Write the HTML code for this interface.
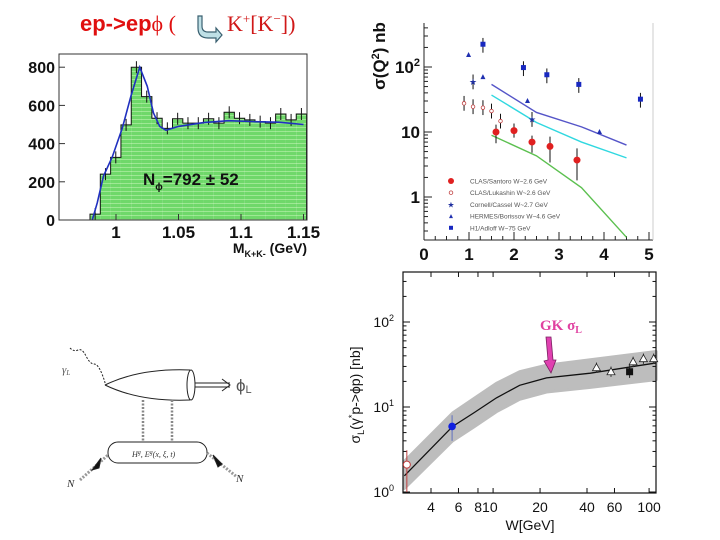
<!DOCTYPE html>
<html><head><meta charset="utf-8"><style>
body{margin:0;background:#fff;width:720px;height:540px;overflow:hidden}
svg{display:block}
</style></head><body>
<svg id="s" width="720" height="540" xmlns="http://www.w3.org/2000/svg" font-family="Liberation Sans, Arial, sans-serif">
<defs>
<pattern id="hl" width="4" height="4" patternUnits="userSpaceOnUse"><rect width="4" height="4" fill="#6fd86a"/><rect y="3" width="4" height="1" fill="#9ee894"/></pattern>
</defs>
<g>
<text x="80" y="31" font-size="22" font-weight="bold" fill="#e01010">ep-&gt;ep<tspan font-weight="normal" font-family="Liberation Serif, serif">ϕ (</tspan></text>
<path d="M202 16 v10 q0 6 6 6 h8 v-4 l6 7 -6 7 v-4 h-8 q-10 0 -10 -10 v-12 z" fill="#bfe0e6" stroke="#3a6070" stroke-width="1.2"/>
<text x="227" y="31" font-size="22" font-family="Liberation Serif, serif" fill="#d01818">K<tspan font-size="13" dy="-8">+</tspan><tspan dy="8">[K</tspan><tspan font-size="13" dy="-8">−</tspan><tspan dy="8">])</tspan></text>
</g>
<g id="hist"></g>
<g id="q2"></g>
<g id="wch"></g>
<g stroke="#222" fill="none" stroke-width="1">
<path d="M70 348 q4 4 8 2 t8 6 t8 8 t8 10 t3 11" stroke-dasharray="2 1.5"/>
<path d="M105 385 Q140 368 190 370"/>
<path d="M105 385 Q140 402 190 400"/>
<ellipse cx="191" cy="385" rx="4" ry="15"/>
<path d="M195 383 H230 M195 387 H230 M222 379 L230 385 L222 391"/>
<path d="M143 400 V442 M172 400 V442" stroke-dasharray="2 1.5" stroke-width="2.5" stroke="#888"/>
<rect x="108" y="442" width="99" height="21" rx="10"/>
<path d="M80 480 L108 455 M207 453 L237 477" stroke="#999" stroke-width="3" stroke-dasharray="2 1.5"/>
<path d="M92 470 l9 -12 l-2 10 z M222 464 l-9 -9 l5 12 z" fill="#111"/>
<text x="132" y="457" font-size="8" font-style="italic" fill="#333" stroke="none" font-family="Liberation Serif, serif">H<tspan font-size="6" dy="-3">g</tspan><tspan dy="3">, E</tspan><tspan font-size="6" dy="-3">g</tspan><tspan dy="3">(x, ξ, t)</tspan></text>
<text x="62" y="373" font-size="11" font-style="italic" fill="#555" stroke="none" font-family="Liberation Serif, serif">γ<tspan font-size="7" dy="2">L</tspan></text>
<text x="236" y="391" font-size="17" fill="#555" stroke="none">ϕ<tspan font-size="11" dy="2">L</tspan></text>
<text x="67" y="487" font-size="11" font-style="italic" fill="#333" stroke="none" font-family="Liberation Serif, serif">N</text>
<text x="236" y="482" font-size="11" font-style="italic" fill="#333" stroke="none" font-family="Liberation Serif, serif">N</text>
</g>
</svg>
<script>
// ---- histogram data ----
const binStart = 0.9792;
const binWidth = 0.00825;
const binCounts = [31,240,328,498,800,646,533,480,530,507,507,530,507,564,533,524,515,507,555,524,555];
const fitMass = [0.981,0.985,0.99,0.997,1.005,1.012,1.019,1.025,1.03,1.035,1.04,1.05,1.07,1.09,1.11,1.13,1.15];
const fitValue = [0,90,230,330,480,650,800,700,560,490,470,490,510,520,515,512,500];
const histYTicks = [0,200,400,600,800];
const histXTicks = [1,1.05,1.1,1.15];
// ---- Q2 chart data ----
const santoroQ = [1.6,2.0,2.4,2.8,3.4];
const santoroV = [10,10.5,7,6,3.7];
const santoroLo = [6.7,8.2,4.8,3.4,1.8];
const santoroHi = [13,13.5,8.8,8.5,5.6];
const lukashinQ = [0.89,1.09,1.31,1.5,1.7];
const lukashinV = [27.6,24.5,23.7,21,14.7];
const cornellQ = [1.09,2.4];
const cornellV = [59,15.6];
const hermesQ = [0.99,1.31,2.3,3.9];
const hermesV = [153,70,30,10];
const h1Q = [1.31,2.21,2.73,3.44,4.81];
const h1V = [224,98,76,54,32];
const curveQ = [1.5,2.5,3.5,4.5];
const curvePurple = [54,20,12,6.3];
const curveCyan = [37,14,7,4];
const greenQ = [1.5,2.5,3.5,4.5];
const greenV = [8.9,4.3,1.39,0.24];
const q2XTicks = [0,1,2,3,4,5];
// ---- W chart data ----
const curveW = [2.7,5.5,7.5,10.5,14.8,22,42,111];
const curveSigma = [1.55,5.9,8.5,12.8,18,22,25,33];
const bandUpper = [2.3,8.5,12.5,19,26,31,36,45];
const bandLower = [1.1,4.0,5.8,8.8,12.3,15,17,21];
const triW = [46,57,79,92,107];
const triS = [29,26,34,37,37];
const wXTicks = [4,6,8,10,20,40,60,100];

const NS='http://www.w3.org/2000/svg';
function mk(parent,tag,attrs,text){const e=document.createElementNS(NS,tag);for(const k in attrs)e.setAttribute(k,attrs[k]);if(text!==undefined)e.textContent=text;parent.appendChild(e);return e;}

// ===== histogram =====
const H=document.getElementById('hist');
const hx=m=>116+(m-1)*1250, hy=v=>220-v*0.191;
mk(H,'rect',{x:59,y:54,width:248,height:166,fill:'#fff',stroke:'#333','stroke-width':1});
let d='M'+hx(binStart)+' '+hy(0);
binCounts.forEach((c,i)=>{
  const b=mk(H,'rect',{x:hx(binStart+i*binWidth),y:hy(c),width:binWidth*1250,height:hy(0)-hy(c),fill:'url(#hl)'});
  
  
  d+=' V'+hy(c)+' H'+hx(binStart+(i+1)*binWidth);
  const e=mk(H,'line',{x1:hx(binStart+(i+0.5)*binWidth),x2:hx(binStart+(i+0.5)*binWidth),y1:hy(c)-6,y2:hy(c)+6,stroke:'#111','stroke-width':1});
  
  
});
d+=' V'+hy(0);
mk(H,'path',{d:d,fill:'none',stroke:'#111','stroke-width':1});
let fd='';fitMass.forEach((m,i)=>{fd+=(i?'L':'M')+hx(m)+' '+hy(fitValue[i])+' ';});
const fit=mk(H,'path',{d:fd,fill:'none',stroke:'#2030c0','stroke-width':1.6});


mk(H,'rect',{x:59,y:54,width:248,height:166,fill:'none',stroke:'#333','stroke-width':1});
histYTicks.forEach(v=>{
  mk(H,'line',{x1:59,x2:65,y1:hy(v),y2:hy(v),stroke:'#333'});
  const t=mk(H,'text',{x:55,y:hy(v)+6,'font-size':16,'font-weight':'bold','text-anchor':'end',fill:'#111'},String(v));
  
  
});
histXTicks.forEach(v=>{
  mk(H,'line',{x1:hx(v),x2:hx(v),y1:220,y2:214,stroke:'#333'});
  const t=mk(H,'text',{x:hx(v),y:238,'font-size':17,'font-weight':'bold','text-anchor':'middle',fill:'#111'},String(v));
  
  
});
const xt=mk(H,'text',{x:307,y:253,'font-size':14,'font-weight':'bold','text-anchor':'end',fill:'#111'});
xt.innerHTML='M<tspan font-size="9" dy="4">K+K-</tspan><tspan dy="-4"> (GeV)</tspan>';


const nt=mk(H,'text',{x:143,y:185,'font-size':17,'font-weight':'bold',fill:'#111'});
nt.innerHTML='N<tspan font-size="10" dy="5">ϕ</tspan><tspan dy="-5">=792 ± 52</tspan>';



// ===== Q2 chart =====
const Q=document.getElementById('q2');
const qx=q=>424+q*45, qy=v=>197-Math.log10(v)*65;
mk(Q,'line',{x1:424,x2:424,y1:23,y2:240,stroke:'#222'});
mk(Q,'line',{x1:424,x2:653,y1:240,y2:240,stroke:'#222'});
mk(Q,'line',{x1:653,x2:653,y1:23,y2:240,stroke:'#ccc'});
for(let e=-1;e<=2;e++)for(let k=1;k<10;k++){const y=qy(k*Math.pow(10,e));if(y<23||y>240)continue;mk(Q,'line',{x1:424,x2:424+(k==1?8:4),y1:y,y2:y,stroke:'#222'});}
for(let q=0;q<=5;q+=0.25){mk(Q,'line',{x1:qx(q),x2:qx(q),y1:240,y2:240-(q%1==0?8:4),stroke:'#222'});}
q2XTicks.forEach(v=>{const t=mk(Q,'text',{x:qx(v),y:260,'font-size':17,'font-weight':'bold','text-anchor':'middle',fill:'#111'},String(v));
  
  });
[['10','2',qy(100)],['10','',qy(10)],['1','',qy(1)]].forEach(a=>{const t=mk(Q,'text',{x:420,y:a[2]+6,'font-size':17,'font-weight':'bold','text-anchor':'end',fill:'#111'});
  t.innerHTML=a[0]+(a[1]?'<tspan font-size="11" dy="-7">'+a[1]+'</tspan>':'');
  
  });
const qyt=mk(Q,'text',{transform:'translate(385,56) rotate(-90)','font-size':17,'font-weight':'bold','text-anchor':'middle',fill:'#111'});
qyt.innerHTML='σ(Q<tspan font-size="11" dy="-6">2</tspan><tspan dy="6">) nb</tspan>';


function line(P,xs,ys,col,name){let s='';xs.forEach((x,i)=>{s+=(i?'L':'M')+qx(x)+' '+qy(ys[i])+' ';});const p=mk(P,'path',{d:s,fill:'none',stroke:col,'stroke-width':1.4});}
line(Q,curveQ,curvePurple,'#5555c8','model-curve-purple');
line(Q,curveQ,curveCyan,'#30d8e0','model-curve-cyan');
line(Q,greenQ,greenV,'#5cc050','model-curve-green');
santoroQ.forEach((q,i)=>{mk(Q,'line',{x1:qx(q),x2:qx(q),y1:qy(santoroHi[i]),y2:qy(santoroLo[i]),stroke:'#111'});
  const c=mk(Q,'circle',{cx:qx(q),cy:qy(santoroV[i]),r:3.5,fill:'#e02020'});
  
  });
lukashinQ.forEach((q,i)=>{mk(Q,'line',{x1:qx(q),x2:qx(q),y1:qy(lukashinV[i]*1.3),y2:qy(lukashinV[i]/1.3),stroke:'#111'});
  const c=mk(Q,'circle',{cx:qx(q),cy:qy(lukashinV[i]),r:1.8,fill:'#fff',stroke:'#c04040','stroke-width':0.8});
  
  });
cornellQ.forEach((q,i)=>{mk(Q,'line',{x1:qx(q),x2:qx(q),y1:qy(cornellV[i]*1.3),y2:qy(cornellV[i]/1.3),stroke:'#111'});
  const c=mk(Q,'text',{x:qx(q),y:qy(cornellV[i])+3,'font-size':9,'text-anchor':'middle',fill:'#2030a0'},'★');
  
  });
hermesQ.forEach((q,i)=>{const x=qx(q),y=qy(hermesV[i]);
  const c=mk(Q,'path',{d:`M${x-2.5} ${y+2} L${x} ${y-3} L${x+2.5} ${y+2}Z`,fill:'#2030b0'});
  
  });
h1Q.forEach((q,i)=>{const x=qx(q),y=qy(h1V[i]);mk(Q,'line',{x1:x,x2:x,y1:qy(h1V[i]*1.25),y2:qy(h1V[i]/1.35),stroke:'#111'});
  const c=mk(Q,'rect',{x:x-2.5,y:y-2.5,width:5,height:5,fill:'#1828c0'});
  
  });
const legItems=['CLAS/Santoro W~2.6 GeV','CLAS/Lukashin W~2.6 GeV','Cornell/Cassel W~2.7 GeV','HERMES/Borissov W~4.6 GeV','H1/Adloff W~75 GeV'];
legItems.forEach((s,i)=>{const y=181+i*11.7;
  let m;
  if(i==0)m=mk(Q,'circle',{cx:451,cy:y,r:3,fill:'#e02020'});
  else if(i==1)m=mk(Q,'circle',{cx:451,cy:y,r:1.8,fill:'#fff',stroke:'#c04040','stroke-width':0.8});
  else if(i==2)m=mk(Q,'text',{x:451,y:y+3,'font-size':8,'text-anchor':'middle',fill:'#2030a0'},'★');
  else if(i==3)m=mk(Q,'path',{d:`M449 ${y+2} L451 ${y-2} L453 ${y+2}Z`,fill:'#2030b0'});
  else m=mk(Q,'rect',{x:449,y:y-2,width:4,height:4,fill:'#1828c0'});
  
  
  const t=mk(Q,'text',{x:470,y:y+2.5,'font-size':6.5,fill:'#555'},s);
  
  });

// ===== W chart =====
const W=document.getElementById('wch');
const wx=w=>431+(Math.log10(w)-0.602)*156, wy=v=>492-Math.log10(v)*85;
let bd='';curveW.forEach((w,i)=>{bd+=(i?'L':'M')+wx(w)+' '+wy(bandUpper[i])+' ';});
for(let i=curveW.length-1;i>=0;i--)bd+='L'+wx(curveW[i])+' '+wy(bandLower[i])+' ';
const band=mk(W,'path',{d:bd+'Z',fill:'#bdbdbd',stroke:'#bdbdbd','stroke-linejoin':'round','stroke-width':3});


let cd='';curveW.forEach((w,i)=>{cd+=(i?'L':'M')+wx(w)+' '+wy(curveSigma[i])+' ';});
const cv=mk(W,'path',{d:cd,fill:'none',stroke:'#111','stroke-width':1.3});


mk(W,'rect',{x:403,y:272,width:253,height:221,fill:'none',stroke:'#111','stroke-width':1.2});
for(let e=0;e<=2;e++)for(let k=1;k<10;k++){const y=wy(k*Math.pow(10,e));if(y<272)continue;const L=k==1?7:3.5;
  mk(W,'line',{x1:403,x2:403+L,y1:y,y2:y,stroke:'#111'});mk(W,'line',{x1:656-L,x2:656,y1:y,y2:y,stroke:'#111'});}
wXTicks.forEach(v=>{mk(W,'line',{x1:wx(v),x2:wx(v),y1:493,y2:488,stroke:'#111'});mk(W,'line',{x1:wx(v),x2:wx(v),y1:272,y2:277,stroke:'#111'});});
const wLab=[['4',4],['6',6],['810',9],['20',20],['40',40],['60',60],['100',100]];
wLab.forEach(a=>{const t=mk(W,'text',{x:wx(a[1]),y:512,'font-size':14,'text-anchor':'middle',fill:'#111'},a[0]);
  
  });
[2,1,0].forEach(e=>{const t=mk(W,'text',{x:394,y:wy(Math.pow(10,e))+5,'font-size':14,'text-anchor':'end',fill:'#111'});
  t.innerHTML='10<tspan font-size="9" dy="-6">'+e+'</tspan>';
  
  });
const wxt=mk(W,'text',{x:530,y:530,'font-size':14,'text-anchor':'middle',fill:'#111'},'W[GeV]');


const wyt=mk(W,'text',{transform:'translate(360,395) rotate(-90)','font-size':14,'text-anchor':'middle',fill:'#111'});
wyt.innerHTML='σ<tspan font-size="9" dy="4">L</tspan><tspan dy="-4">(γ</tspan><tspan font-size="9" dy="-5">*</tspan><tspan dy="5">p-&gt;ϕp)  [nb]</tspan>';


// data points
mk(W,'line',{x1:wx(2.8),x2:wx(2.8),y1:wy(3.1),y2:wy(1.0),stroke:'#c04040'});
const oc=mk(W,'circle',{cx:wx(2.8),cy:wy(2.1),r:3.5,fill:'#fff',stroke:'#c04040'});


mk(W,'line',{x1:wx(5.46),x2:wx(5.46),y1:wy(8),y2:wy(4),stroke:'#6070c0'});
const bc=mk(W,'circle',{cx:wx(5.46),cy:wy(5.9),r:3.8,fill:'#1020e0'});


triW.forEach((w,i)=>{const x=wx(w),y=wy(triS[i]);mk(W,'line',{x1:x,x2:x,y1:wy(triS[i]*1.15),y2:wy(triS[i]/1.15),stroke:'#333'});
  const t=mk(W,'path',{d:`M${x-4} ${y+3} L${x} ${y-4} L${x+4} ${y+3}Z`,fill:'#fff',stroke:'#222','stroke-width':0.8});
  
  });
mk(W,'line',{x1:wx(75),x2:wx(75),y1:wy(31),y2:wy(22),stroke:'#222'});
const sq=mk(W,'rect',{x:wx(75)-3.5,y:wy(26)-3.5,width:7,height:7,fill:'#111'});


const arr=mk(W,'path',{d:'M546 337 L551 337 L553 360 L556 360 L551 373 L544 361 L548 360 Z',fill:'#e040b0',stroke:'#7a2060','stroke-width':0.8});


const gk=mk(W,'text',{x:540,y:330,'font-size':15,'font-weight':'bold','font-family':'Liberation Serif, serif',fill:'#e040a0'});
gk.innerHTML='GK σ<tspan font-size="10" dy="3">L</tspan>';


</script>
</body></html>
